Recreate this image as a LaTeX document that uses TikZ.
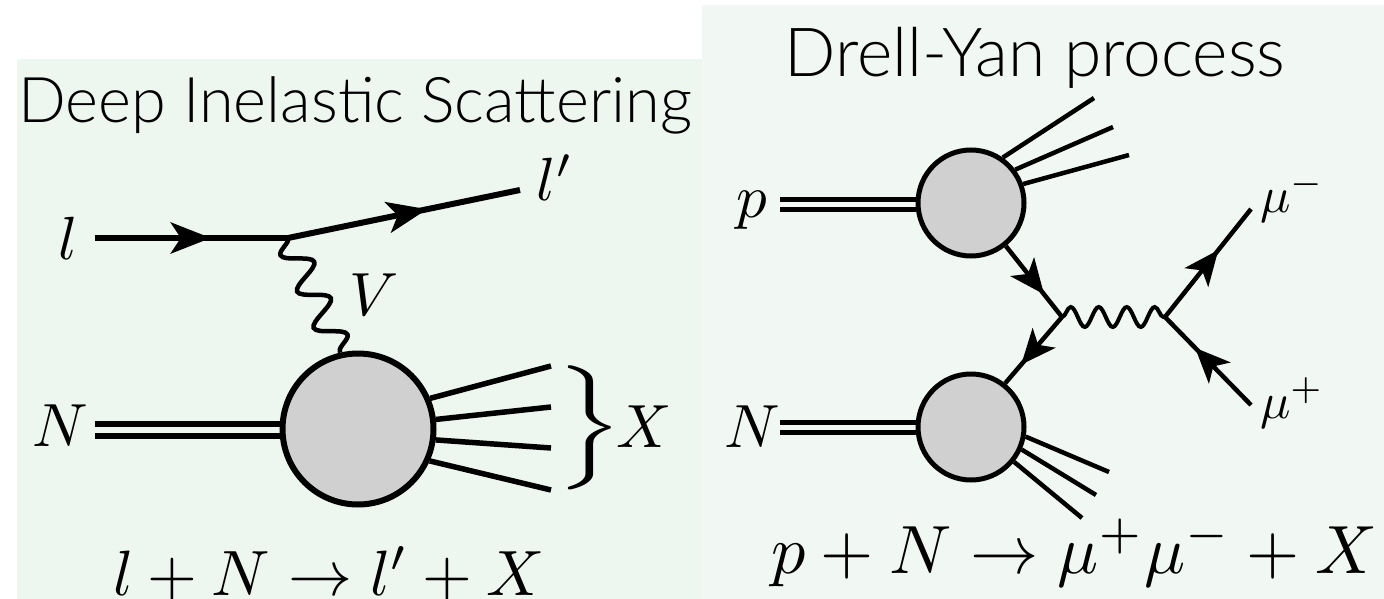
\documentclass[tikz,border=0pt]{standalone}
\usepackage{fontspec}
\setmainfont{Lato}[UprightFont=* Light]
\usetikzlibrary{arrows.meta,decorations.markings,decorations.pathmorphing}
\definecolor{panelL}{HTML}{EEF6F0}
\definecolor{panelR}{HTML}{F1F8F3}
\definecolor{blobgray}{HTML}{D0D0D0}
\tikzset{
  title/.style={anchor=base west,inner sep=0pt},
  lab/.style={scale=6.1,inner sep=0pt},
  fermion/.style={postaction={decorate,decoration={markings,
    mark=at position #1 with {\arrow{Stealth[length=40pt,width=31pt,inset=10pt]}}}}},
  fermionr/.style={postaction={decorate,decoration={markings,
    mark=at position #1 with {\arrow{Stealth[length=35pt,width=30pt,inset=9pt]}}}}},
  blob/.style={circle,draw,fill=blobgray,inner sep=0pt},
}
\begin{document}
\begin{tikzpicture}[x=1pt,y=-1pt]
  \useasboundingbox (0,0) rectangle (1384,599);
  \fill[panelL] (17,59) rectangle (702,599);
  \fill[panelR] (702,5) rectangle (1384,599);
  % left diagram
  \node[title,scale=6.3] (dis) at (17,123) {Deep Inelastic Scattering};
  \coordinate (Li) at (95,238);
  \coordinate (Lv) at (288,238);
  \coordinate (Lf) at (520,190);
  \coordinate (Na) at (95,424);
  \coordinate (Nb) at (95,436);
  \node[blob,line width=6pt,minimum size=151pt] (B) at (358,429) {};
  \coordinate (Xa) at (551,366);
  \coordinate (Xb) at (551,407);
  \coordinate (Xc) at (551,448);
  \coordinate (Xd) at (551,490);
  \node[lab] (l) at (68,238) {$l$};
  \node[lab] (lp) at (555,178) {$l'$};
  \node[lab] (V) at (374,295) {$V$};
  \node[lab] (N) at (60,426) {$N$};
  \node[lab] (X) at (644,427) {$X$};
  \node[xscale=10,yscale=6.9,inner sep=0pt] (brace) at (590,428) {$\Big\}$};
  \node[lab,scale=1.05,anchor=base west] (reactL) at (112,595) {$l+N\to l'+X$};
  \draw[line width=6pt,fermion=0.6] (Li) -- (Lv);
  \draw[line width=6pt,fermion=0.6] (Lv) -- (Lf);
  \draw[line width=4.5pt,decorate,decoration={snake,mirror,amplitude=14pt,segment length=40pt}] (Lv) -- (B.103);
  \draw[line width=6pt] (Na) -- (Na-|B.west);
  \draw[line width=6pt] (Nb) -- (Nb-|B.west);
  \draw[line width=5.5pt] (B.23) -- (Xa);
  \draw[line width=5.5pt] (B.7) -- (Xb);
  \draw[line width=5.5pt] (B.-8) -- (Xc);
  \draw[line width=5.5pt] (B.-24) -- (Xd);
  % right diagram
  \node[title,scale=6.77] (dy) at (783,77) {Drell-Yan process};
  \coordinate (Pa) at (780,199);
  \coordinate (Pb) at (780,209);
  \coordinate (Qa) at (780,422);
  \coordinate (Qb) at (780,432);
  \coordinate (Va) at (1062,317);
  \coordinate (Vb) at (1165,317);
  \coordinate (Mm) at (1251,209);
  \coordinate (Mp) at (1251,405);
  \node[blob,line width=5pt,minimum size=106pt] (P) at (971,203) {};
  \node[blob,line width=5pt,minimum size=106pt] (Q) at (971,427) {};
  \coordinate (Ya) at (1094,98);
  \coordinate (Yb) at (1113,127);
  \coordinate (Yc) at (1129,155);
  \coordinate (Za) at (1109,472);
  \coordinate (Zb) at (1096,495);
  \coordinate (Zc) at (1082,518);
  \node[lab] (p) at (752,210) {$p$};
  \node[lab] (Nr) at (752,427) {$N$};
  \node[inner sep=0pt,scale=5.05,anchor=base west] (mum) at (1259,212) {$\mu^-$};
  \node[inner sep=0pt,scale=5.05,anchor=base west] (mup) at (1259,418) {$\mu^+$};
  \node[inner sep=0pt,scale=6.83,anchor=base west] (reactR) at (770,573) {$p+N\to\mu^+\mu^-+X$};
  \draw[line width=5pt] (Pa) -- (Pa-|P.west);
  \draw[line width=5pt] (Pb) -- (Pb-|P.west);
  \draw[line width=5pt] (Qa) -- (Qa-|Q.west);
  \draw[line width=5pt] (Qb) -- (Qb-|Q.west);
  \draw[line width=4.5pt] (P.55) -- (Ya);
  \draw[line width=4.5pt] (P.37) -- (Yb);
  \draw[line width=4.5pt] (P.20) -- (Yc);
  \draw[line width=4.5pt] (Q.-10) -- (Za);
  \draw[line width=4.5pt] (Q.-24) -- (Zb);
  \draw[line width=4.5pt] (Q.-39) -- (Zc);
  \draw[line width=4.5pt,fermionr=0.68] (P.-51) -- (Va);
  \draw[line width=4.5pt,fermionr=0.72] (Va) -- (Q.52);
  \draw[line width=4.5pt,fermionr=0.62] (Vb) -- (Mm);
  \draw[line width=4.5pt,fermionr=0.65] (Mp) -- (Vb);
  \draw[line width=4pt,decorate,decoration={snake,amplitude=10pt,segment length=28pt}] (Va) -- (Vb);
\end{tikzpicture}
\end{document}
